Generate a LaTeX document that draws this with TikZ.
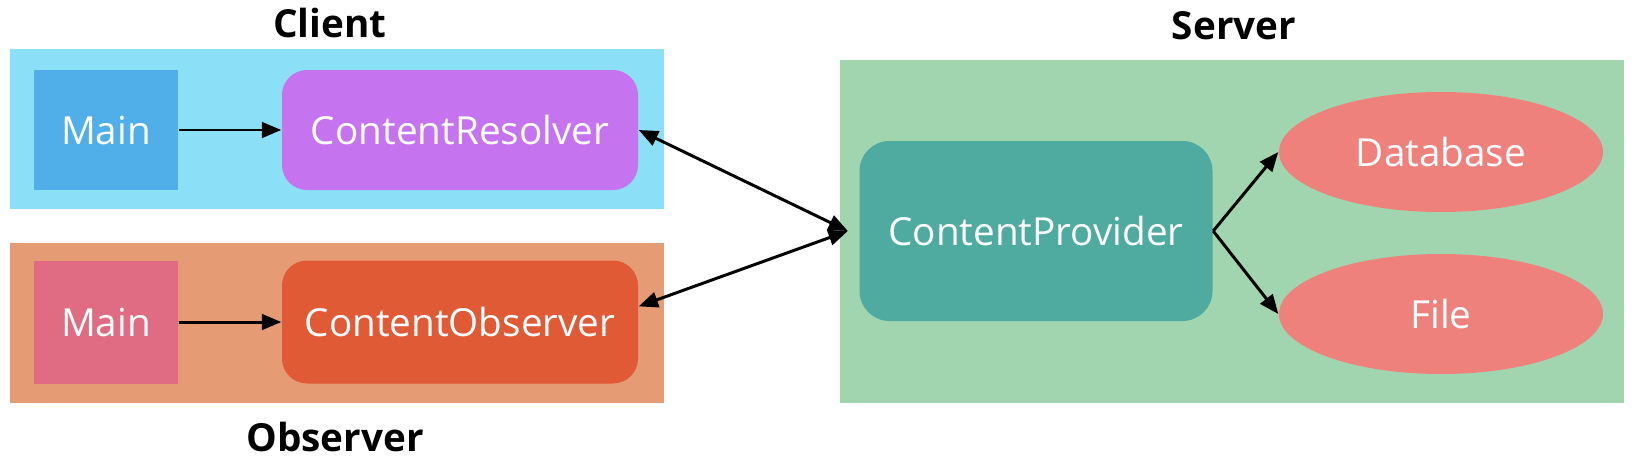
\documentclass[tikz,border=0pt]{standalone}
\usepackage{fontspec}
\setmainfont{Open Sans}
\usetikzlibrary{arrows.meta,shapes.geometric,positioning}
\definecolor{clientbg}{HTML}{8BE0F8}
\definecolor{clientmain}{HTML}{50AEE8}
\definecolor{resolvercol}{HTML}{C673F0}
\definecolor{observerbg}{HTML}{E59C74}
\definecolor{observermain}{HTML}{E06C84}
\definecolor{observercol}{HTML}{E05A36}
\definecolor{serverbg}{HTML}{A1D5B0}
\definecolor{providercol}{HTML}{4FAB9F}
\definecolor{storecol}{HTML}{EE817C}

\tikzset{
  box/.style={rectangle, fill=#1, text=white, inner sep=0pt,
    font=\fontsize{11}{13}\selectfont},
  rbox/.style={box=#1, rounded corners=0.25cm},
  store/.style={ellipse, fill=storecol, text=white, inner sep=0pt,
    minimum width=3.24cm, minimum height=1.2cm, font=\fontsize{11}{13}\selectfont},
  title/.style={font=\bfseries\fontsize{11}{13}\selectfont},
  tip/.tip={Triangle[length=5.5pt,width=4.4pt]},
  link/.style={-tip, line width=0.85pt}
}

\begin{document}
\begin{tikzpicture}
% main-width, resolver-width & box-height
\newcommand{\mwd}{1.44}
\newcommand{\rwd}{3.56}
\newcommand{\bht}{1.2}

\useasboundingbox (0,0) rectangle (16.4,4.64);

% Client group
\fill[clientbg] (0.10,2.55) rectangle (6.64,4.15);
\node[title] (clienttitle) at (3.30,4.41) {Client};
\node[box=clientmain, minimum width=\mwd cm, minimum height=\bht cm] (mainA) at (1.06,3.34) {Main};
\node[rbox=resolvercol, minimum width=\rwd cm, minimum height=\bht cm] (resolver) at (4.60,3.34) {ContentResolver};
\draw[link] (mainA) -- (resolver);

% Observer group
\fill[observerbg] (0.10,0.61) rectangle (6.64,2.21);
\node[title] (observertitle) at (3.35,0.27) {Observer};
\node[box=observermain, minimum width=\mwd cm, minimum height=1.23cm] (mainB) at (1.06,1.42) {Main};
\node[rbox=observercol, minimum width=\rwd cm, minimum height=1.23cm] (observer) at (4.60,1.42) {ContentObserver};
\draw[link] (mainB) -- (observer);

% Server group
\fill[serverbg] (8.40,0.61) rectangle (16.24,4.04);
\node[title] (servertitle) at (12.34,4.38) {Server};
\node[rbox=providercol, rounded corners=0.3cm, minimum width=3.53cm, minimum height=1.8cm] (provider) at (10.36,2.33) {ContentProvider};
\node[store] (database) at (14.41,3.12) {Database};
\node[store] (file) at (14.41,1.50) {File};
\coordinate (hub) at ([xshift=-0.11cm]provider.west);

% Links
\draw[link, tip-tip] (resolver.east) -- (hub);
\draw[link, tip-tip] (observer.5) -- (hub);
\draw[link] (provider.east) -- (database.west);
\draw[link] (provider.east) -- (file.west);
\end{tikzpicture}
\end{document}
